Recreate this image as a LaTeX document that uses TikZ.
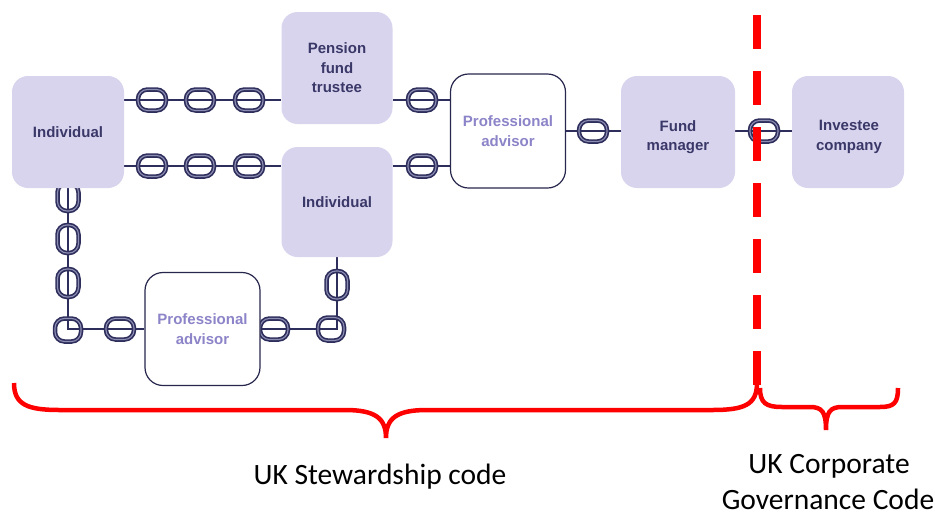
\documentclass[tikz,border=0pt]{standalone}
\usepackage{fontspec}
\setmainfont{Liberation Sans}
\newfontfamily\calfont{Carlito}
\usetikzlibrary{backgrounds}
\definecolor{lav}{HTML}{D8D4EE}
\definecolor{navy}{HTML}{2E2E5C}
\definecolor{navylight}{HTML}{8E8EB4}
\definecolor{patext}{HTML}{8C84C8}
\definecolor{boxtext}{HTML}{3A3868}
\definecolor{redc}{HTML}{FF0000}
\begin{document}
\begin{tikzpicture}[x=1pt,y=-1pt,
  fbox/.style={fill=lav, rounded corners=16pt, minimum width=112pt, minimum height=112pt,
    text=boxtext, font=\fontsize{15}{19.5}\selectfont\bfseries, align=center, inner sep=0pt},
  boxtxt/.style={text=boxtext, font=\fontsize{15}{19.5}\selectfont\bfseries, align=center, inner sep=0pt},
  wbox/.style={fill=white, draw=navy!85!black, line width=1.2pt, rounded corners=18pt,
    minimum width=115pt, minimum height=114pt, text=patext,
    font=\fontsize{15}{19.5}\selectfont\bfseries, align=center, inner sep=0pt},
  chainline/.style={draw=navy, line width=2.6pt},
  hlink/.style={draw=navy, double=navylight, double distance=1.1pt, line width=1.7pt,
    rounded corners=9.5pt, minimum width=28pt, minimum height=21pt, inner sep=0pt},
  vlink/.style={hlink, minimum width=21pt, minimum height=28pt},
  redline/.style={draw=redc, line width=8.5pt, dash pattern=on 34pt off 22pt},
  brace/.style={draw=redc, line width=4.5pt, line join=miter},
  code/.style={font=\calfont\fontsize{29.5}{34}\selectfont, text=black, align=center, inner sep=0pt}
]
\useasboundingbox (0,0) rectangle (935,515);

% boxes
\node[fbox] (ind1) at (68,132) {Individual};
\node[fbox, minimum width=111pt] (pft) at (337,68) {Pension\\fund\\trustee};
\node[fbox, minimum width=111pt, minimum height=110pt] (ind2) at (337,202) {Individual};
\node[wbox] (pa1) at (508,131) {Professional\\advisor};
\node[fbox, minimum width=114pt] (fm) at (678,132) {};
\node[boxtxt] (fmt) at (678,137) {Fund\\manager};
\node[fbox, minimum width=112pt] (ic) at (848,132) {};
\node[boxtxt] (ict) at (849,137) {Investee\\company};
\node[wbox, minimum height=113pt] (pa2) at (202.5,329) {Professional\\advisor};

\coordinate (r1) at (0,100);
\coordinate (r2) at (0,166);
\coordinate (r3) at (0,131);

\begin{pgfonlayer}{background}
  % chain lines
  \draw[chainline] (ind1.east |- r1) -- (pft.west |- r1);
  \draw[chainline] (ind1.east |- r2) -- (ind2.west |- r2);
  \draw[chainline] (pft.east |- r1) -- (pa1.west |- r1);
  \draw[chainline] (ind2.east |- r2) -- (pa1.west |- r2);
  \draw[chainline] (pa1.east |- r3) -- (fm.west |- r3);
  \draw[chainline] (fm.east |- r3) -- (ic.west |- r3);
  \draw[chainline] (ind1.south) |- (pa2.west);
  \draw[chainline] (pa2.east) -| (ind2.south);
  % links
  \node[hlink] (a1) at (152,100) {};
  \node[hlink] (a2) at (200,100) {};
  \node[hlink] (a3) at (249,100) {};
  \node[hlink] (b1) at (152,166) {};
  \node[hlink] (b2) at (200,166) {};
  \node[hlink] (b3) at (249,166) {};
  \node[hlink] (c1) at (422,100) {};
  \node[hlink] (c2) at (422,166) {};
  \node[hlink] (c3) at (593,131) {};
  \node[hlink] (c4) at (764,131) {};
  \node[vlink] (d1) at (68,197) {};
  \node[vlink] (d2) at (68,239) {};
  \node[vlink] (d3) at (68,283) {};
  \node[hlink, minimum width=26pt, minimum height=23pt] (d4) at (68,330) {};
  \node[hlink] (d5) at (120,329) {};
  \node[hlink] (e1) at (274,329) {};
  \node[hlink, minimum width=26pt, minimum height=23pt] (e2) at (331,329) {};
  \node[vlink] (e3) at (337,285) {};
\end{pgfonlayer}

% red dashed divider
\coordinate (dtop) at (757,15);
\coordinate (dbot) at (757,400);
\draw[redline] (dtop) -- (dbot);

% braces
\coordinate (bl) at (14,383);
\coordinate (bt) at (386,438);
\coordinate (br) at (757,383);
\draw[brace] (bl) .. controls (14,405) and (28,410) .. (60,410) -- (345,410)
  .. controls (375,410) and (386,418) .. (bt)
  .. controls (386,418) and (397,410) .. (427,410) -- (712,410)
  .. controls (744,410) and (757,405) .. (br);
\coordinate (sl) at (760,388);
\coordinate (st) at (826,430);
\coordinate (sr) at (898,388);
\draw[brace] (sl) .. controls (760,403) and (766,407) .. (782,407) -- (810,407)
  .. controls (822,407) and (826,412) .. (st)
  .. controls (826,412) and (830,407) .. (842,407) -- (880,407)
  .. controls (894,407) and (898,403) .. (sr);

% labels
\node[code] (t1) at (380,477) {UK Stewardship code};
\node[code] (t2) at (829,466) {UK Corporate};
\node[code] (t3) at (828,499) {Governance Code};
\end{tikzpicture}
\end{document}
